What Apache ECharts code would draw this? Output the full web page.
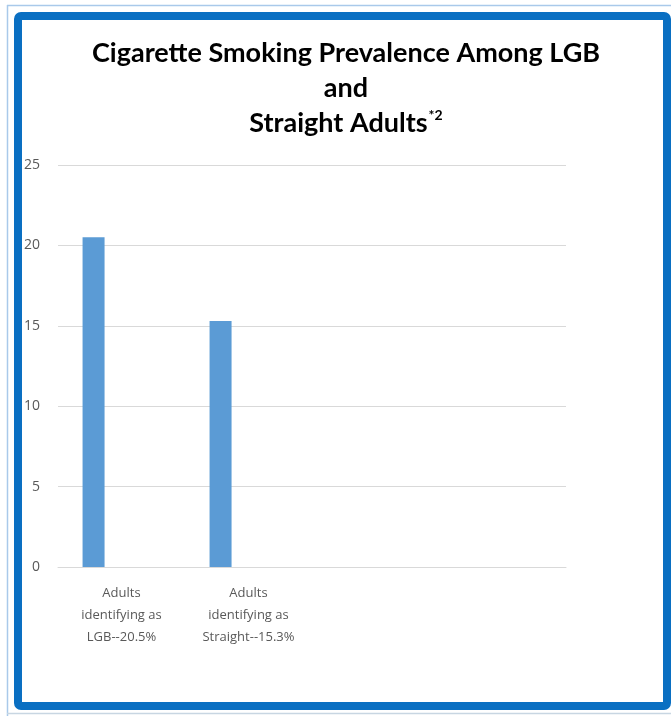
<!DOCTYPE html>
<html>
<head>
<meta charset="utf-8">
<script src="https://cdn.jsdelivr.net/npm/echarts@6/dist/echarts.min.js"></script>
<style>
  html, body { margin: 0; padding: 0; background: #fff; }
  #chart { width: 671px; height: 716px; }
</style>
</head>
<body>
<div id="chart"></div>
<script>
// categories as shown under the axis (Excel wrapped them onto three lines)
const categories = [
    'Adults\nidentifying as\nLGB--20.5%',
    'Adults\nidentifying as\nStraight--15.3%',
    '',
    ''
];
const prevalence = [20.5, 15.3, null, null];
// second, empty series in the source chart that pushes the bars left of centre
const emptySeries = [null, null, null, null];
const yTicks = [0, 5, 10, 15, 20, 25];

const chart = echarts.init(document.getElementById('chart'), null, {renderer: 'canvas'});

const axisGray = '#595959';
const gridGray = '#d9d9d9';

chart.setOption({
    animation: false,
    title: {
        text: '{t|Cigarette Smoking Prevalence Among LGB}\n{t|and}\n{t|Straight Adults}{sup|*2}',
        left: 341,
        top: 31,
        textAlign: 'center',
        textStyle: {
            rich: {
                t: {fontFamily: 'Lato', fontWeight: 'bold', fontSize: 27, color: '#000', lineHeight: 35},
                sup: {fontFamily: 'Lato', fontWeight: 'bold', fontSize: 14, color: '#000', lineHeight: 35, padding: [0, 0, 16, 1]}
            }
        }
    },
    graphic: [
        // thin outer line
        {type: 'line', shape: {x1: 7, y1: 5.5, x2: 671, y2: 5.5}, style: {stroke: '#a9c9ea', lineWidth: 1.5}},
        {type: 'line', shape: {x1: 7.5, y1: 5, x2: 7.5, y2: 716}, style: {stroke: '#a9c9ea', lineWidth: 1.5}},
        {type: 'line', shape: {x1: 7, y1: 713.5, x2: 671, y2: 713.5}, style: {stroke: '#c8d6e2', lineWidth: 1.5}},
        // thick blue frame
        {type: 'rect', shape: {x: 18, y: 16, width: 649, height: 690, r: 3}, style: {fill: null, stroke: '#0a6fc2', lineWidth: 8}}
    ],
    grid: {left: 58, right: 105, top: 165, bottom: 149},
    xAxis: {
        type: 'category',
        data: categories,
        axisLine: {lineStyle: {color: gridGray}},
        axisTick: {show: false},
        axisLabel: {
            color: axisGray, fontFamily: 'Open Sans', fontSize: 13, lineHeight: 22,
            margin: 15, interval: 0
        }
    },
    yAxis: {
        type: 'value',
        min: yTicks[0],
        max: yTicks[yTicks.length - 1],
        interval: 5,
        axisLine: {show: false},
        axisTick: {show: false},
        splitLine: {lineStyle: {color: gridGray}},
        axisLabel: {color: axisGray, fontFamily: 'Open Sans', fontSize: 14, margin: 18}
    },
    series: [
        {
            type: 'bar',
            data: prevalence,
            barWidth: 22,
            barGap: '154%',
            itemStyle: {color: '#5b9bd5'}
        },
        {
            type: 'bar',
            data: emptySeries,
            barWidth: 22,
            itemStyle: {color: '#ed7d31'}
        }
    ]
});
</script>
</body>
</html>
